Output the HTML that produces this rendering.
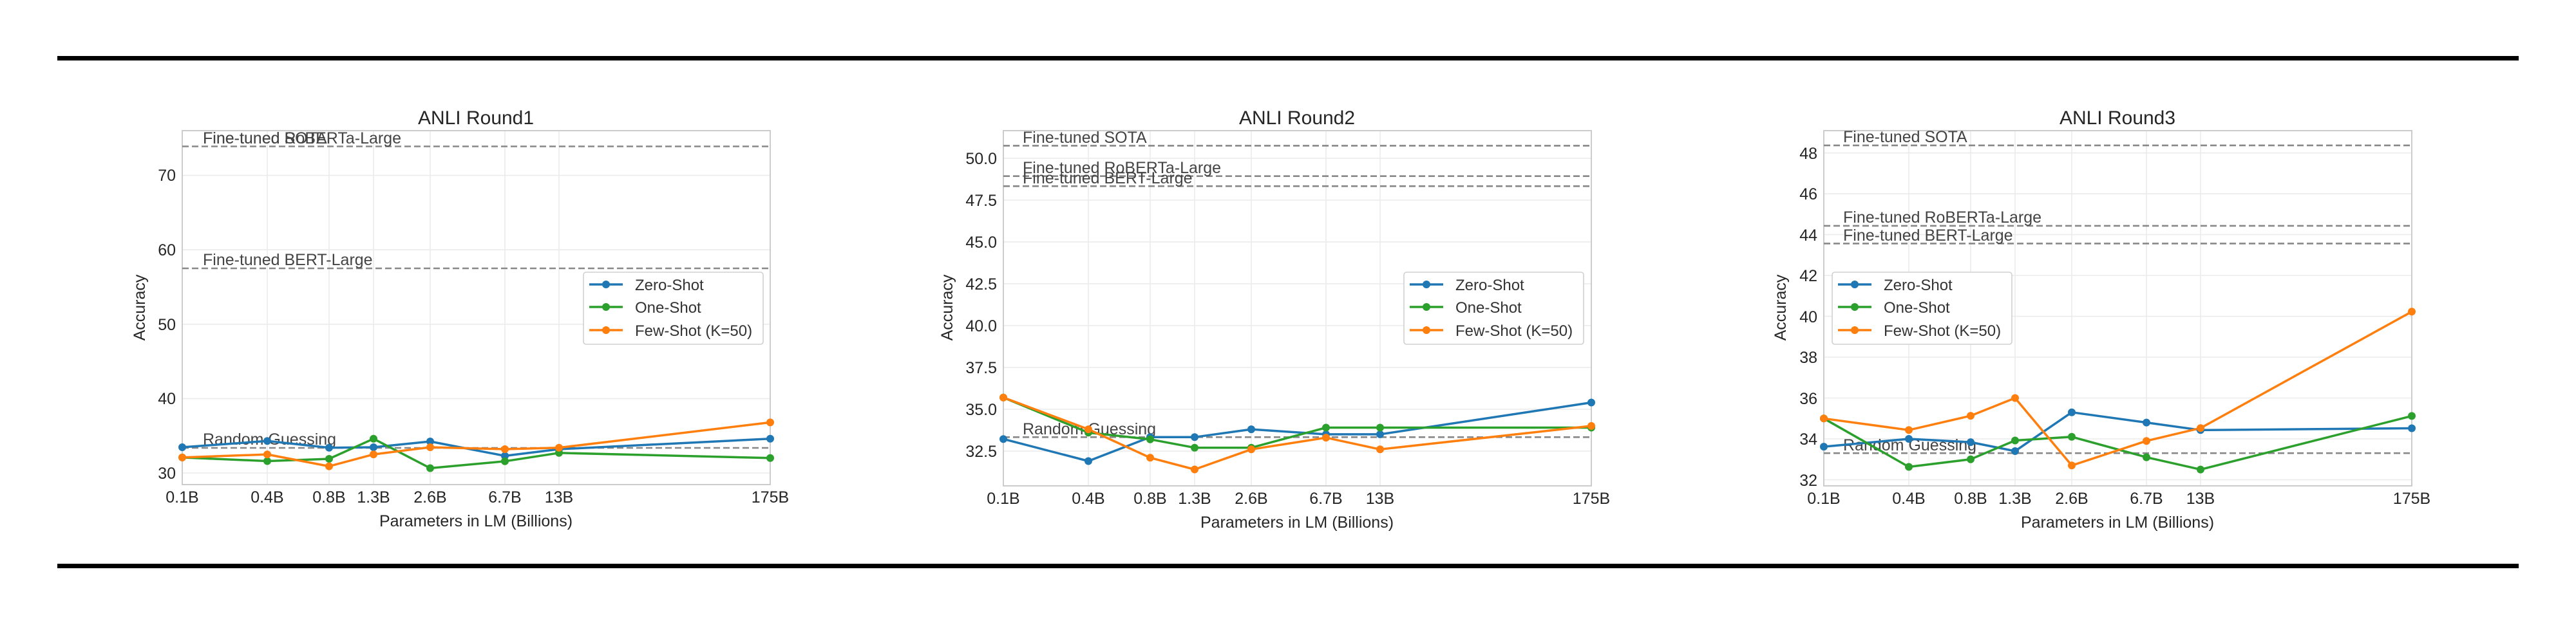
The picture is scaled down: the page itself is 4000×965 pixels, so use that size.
<!DOCTYPE html>
<html><head><meta charset="utf-8"><style>
html,body{margin:0;padding:0;background:#fff;}
svg{display:block;font-family:"Liberation Sans",Arial,sans-serif;}
.g{stroke:#ebebeb;stroke-width:1.6;}
.f{fill:none;stroke:#cccccc;stroke-width:2;}
.r{stroke:#888;stroke-width:2.6;stroke-dasharray:10,5;}
.rl{font-size:25px;fill:#444;}
.tk{font-size:25px;fill:#262626;}
.tt{font-size:30px;fill:#262626;text-anchor:middle;}
.xl{font-size:25px;fill:#262626;text-anchor:middle;}
.b{stroke:#1f77b4;} .gr{stroke:#2ca02c;} .o{stroke:#ff7f0e;}
polyline{fill:none;stroke-width:3.5;stroke-linejoin:round;}
.mb circle{fill:#1f77b4;} .mg circle{fill:#2ca02c;} .mo circle{fill:#ff7f0e;}
.lg{fill:#fff;stroke:#d0d0d0;stroke-width:1.6;}
.lt{font-size:24px;fill:#333;}
</style></head><body>
<svg width="4000" height="965" viewBox="0 0 4000 965" xmlns="http://www.w3.org/2000/svg">
<rect x="89" y="87" width="3822" height="7" fill="#000"/>
<rect x="89" y="876" width="3822" height="7" fill="#000"/>

<!-- Chart 1 -->
<g transform="translate(283,0)">
<g class="g">
<line x1="0" y1="735" x2="913" y2="735"/><line x1="0" y1="619.4" x2="913" y2="619.4"/><line x1="0" y1="503.8" x2="913" y2="503.8"/><line x1="0" y1="388.2" x2="913" y2="388.2"/><line x1="0" y1="272.6" x2="913" y2="272.6"/>
<line x1="132" y1="203" x2="132" y2="753"/><line x1="228" y1="203" x2="228" y2="753"/><line x1="297" y1="203" x2="297" y2="753"/><line x1="385" y1="203" x2="385" y2="753"/><line x1="501" y1="203" x2="501" y2="753"/><line x1="585" y1="203" x2="585" y2="753"/>
</g>
<rect class="f" x="0" y="203" width="913" height="550"/>
<line class="r" x1="0" y1="227.5" x2="913" y2="227.5"/>
<line class="r" x1="0" y1="417" x2="913" y2="417"/>
<line class="r" x1="0" y1="696" x2="913" y2="696"/>
<text class="rl" x="32" y="223">Fine-tuned SOTA</text>
<text class="rl" x="32" y="223">Fine-tuned RoBERTa-Large</text>
<text class="rl" x="32" y="412">Fine-tuned BERT-Large</text>
<text class="rl" x="32" y="691">Random Guessing</text>
<polyline class="b" points="0,695 132,685.3 228,695.7 297,695 385,686 501,708.4 585,698 913,681.8"/>
<polyline class="gr" points="0,710.9 132,716.5 228,713 297,681.8 385,727.5 501,716.8 585,703.8 913,711.8"/>
<polyline class="o" points="0,710.9 132,706.1 228,724.6 297,706.1 385,695 501,698 585,695.7 913,656.4"/>
<g class="mb"><circle cx="0" cy="695" r="6"/><circle cx="132" cy="685.3" r="6"/><circle cx="228" cy="695.7" r="6"/><circle cx="297" cy="695" r="6"/><circle cx="385" cy="686" r="6"/><circle cx="501" cy="708.4" r="6"/><circle cx="585" cy="698" r="6"/><circle cx="913" cy="681.8" r="6"/></g>
<g class="mg"><circle cx="0" cy="710.9" r="6"/><circle cx="132" cy="716.5" r="6"/><circle cx="228" cy="713" r="6"/><circle cx="297" cy="681.8" r="6"/><circle cx="385" cy="727.5" r="6"/><circle cx="501" cy="716.8" r="6"/><circle cx="585" cy="703.8" r="6"/><circle cx="913" cy="711.8" r="6"/></g>
<g class="mo"><circle cx="0" cy="710.9" r="6"/><circle cx="132" cy="706.1" r="6"/><circle cx="228" cy="724.6" r="6"/><circle cx="297" cy="706.1" r="6"/><circle cx="385" cy="695" r="6"/><circle cx="501" cy="698" r="6"/><circle cx="585" cy="695.7" r="6"/><circle cx="913" cy="656.4" r="6"/></g>
<g class="tk" text-anchor="end"><text x="-10" y="744">30</text><text x="-10" y="628">40</text><text x="-10" y="513">50</text><text x="-10" y="397">60</text><text x="-10" y="281">70</text></g>
<g class="tk" text-anchor="middle"><text x="0" y="781">0.1B</text><text x="132" y="781">0.4B</text><text x="228" y="781">0.8B</text><text x="297" y="781">1.3B</text><text x="385" y="781">2.6B</text><text x="501" y="781">6.7B</text><text x="585" y="781">13B</text><text x="913" y="781">175B</text></g>
<text class="tt" x="456" y="193">ANLI Round1</text>
<text class="xl" x="456" y="818">Parameters in LM (Billions)</text>
<text class="xl" transform="translate(-58,478) rotate(-90)">Accuracy</text>
<g transform="translate(623,423)">
<rect class="lg" x="0" y="0" width="279" height="112" rx="4"/>
<line class="b" x1="9" y1="19" x2="61" y2="19" stroke-width="3.5"/><circle cx="35" cy="19" r="6" fill="#1f77b4"/>
<line class="gr" x1="9" y1="54" x2="61" y2="54" stroke-width="3.5"/><circle cx="35" cy="54" r="6" fill="#2ca02c"/>
<line class="o" x1="9" y1="90" x2="61" y2="90" stroke-width="3.5"/><circle cx="35" cy="90" r="6" fill="#ff7f0e"/>
<text class="lt" x="80" y="28">Zero-Shot</text><text class="lt" x="80" y="63">One-Shot</text><text class="lt" x="80" y="99">Few-Shot (K=50)</text>
</g>
</g>

<!-- Chart 2 -->
<g transform="translate(1558,0)">
<g class="g">
<line x1="0" y1="700.9" x2="913" y2="700.9"/><line x1="0" y1="635.9" x2="913" y2="635.9"/><line x1="0" y1="570.9" x2="913" y2="570.9"/><line x1="0" y1="505.9" x2="913" y2="505.9"/><line x1="0" y1="440.9" x2="913" y2="440.9"/><line x1="0" y1="375.9" x2="913" y2="375.9"/><line x1="0" y1="310.9" x2="913" y2="310.9"/><line x1="0" y1="245.9" x2="913" y2="245.9"/>
<line x1="132" y1="203" x2="132" y2="755"/><line x1="228" y1="203" x2="228" y2="755"/><line x1="297" y1="203" x2="297" y2="755"/><line x1="385" y1="203" x2="385" y2="755"/><line x1="501" y1="203" x2="501" y2="755"/><line x1="585" y1="203" x2="585" y2="755"/>
</g>
<rect class="f" x="0" y="203" width="913" height="552"/>
<line class="r" x1="0" y1="226.4" x2="913" y2="226.4"/>
<line class="r" x1="0" y1="273.7" x2="913" y2="273.7"/>
<line class="r" x1="0" y1="289.3" x2="913" y2="289.3"/>
<line class="r" x1="0" y1="679.3" x2="913" y2="679.3"/>
<text class="rl" x="30" y="222">Fine-tuned SOTA</text>
<text class="rl" x="30" y="269">Fine-tuned RoBERTa-Large</text>
<text class="rl" x="30" y="285">Fine-tuned BERT-Large</text>
<text class="rl" x="30" y="675">Random Guessing</text>
<polyline class="b" points="0,682.2 132,716.5 228,679.3 297,679.3 385,667.1 501,674.9 585,674.9 913,625.5"/>
<polyline class="gr" points="0,617.7 132,672.3 228,682.7 297,695.7 385,695.7 501,664.5 585,664.5 913,664.5"/>
<polyline class="o" points="0,617.7 132,667.1 228,711.3 297,729.5 385,698.3 501,680.1 585,698.3 913,661.9"/>
<g class="mb"><circle cx="0" cy="682.2" r="6"/><circle cx="132" cy="716.5" r="6"/><circle cx="228" cy="679.3" r="6"/><circle cx="297" cy="679.3" r="6"/><circle cx="385" cy="667.1" r="6"/><circle cx="501" cy="674.9" r="6"/><circle cx="585" cy="674.9" r="6"/><circle cx="913" cy="625.5" r="6"/></g>
<g class="mg"><circle cx="0" cy="617.7" r="6"/><circle cx="132" cy="672.3" r="6"/><circle cx="228" cy="682.7" r="6"/><circle cx="297" cy="695.7" r="6"/><circle cx="385" cy="695.7" r="6"/><circle cx="501" cy="664.5" r="6"/><circle cx="585" cy="664.5" r="6"/><circle cx="913" cy="664.5" r="6"/></g>
<g class="mo"><circle cx="0" cy="617.7" r="6"/><circle cx="132" cy="667.1" r="6"/><circle cx="228" cy="711.3" r="6"/><circle cx="297" cy="729.5" r="6"/><circle cx="385" cy="698.3" r="6"/><circle cx="501" cy="680.1" r="6"/><circle cx="585" cy="698.3" r="6"/><circle cx="913" cy="661.9" r="6"/></g>
<g class="tk" text-anchor="end"><text x="-10" y="710">32.5</text><text x="-10" y="645">35.0</text><text x="-10" y="580">37.5</text><text x="-10" y="515">40.0</text><text x="-10" y="450">42.5</text><text x="-10" y="385">45.0</text><text x="-10" y="320">47.5</text><text x="-10" y="255">50.0</text></g>
<g class="tk" text-anchor="middle"><text x="0" y="783">0.1B</text><text x="132" y="783">0.4B</text><text x="228" y="783">0.8B</text><text x="297" y="783">1.3B</text><text x="385" y="783">2.6B</text><text x="501" y="783">6.7B</text><text x="585" y="783">13B</text><text x="913" y="783">175B</text></g>
<text class="tt" x="456" y="193">ANLI Round2</text>
<text class="xl" x="456" y="820">Parameters in LM (Billions)</text>
<text class="xl" transform="translate(-79,478) rotate(-90)">Accuracy</text>
<g transform="translate(622,423)">
<rect class="lg" x="0" y="0" width="279" height="112" rx="4"/>
<line class="b" x1="9" y1="19" x2="61" y2="19" stroke-width="3.5"/><circle cx="35" cy="19" r="6" fill="#1f77b4"/>
<line class="gr" x1="9" y1="54" x2="61" y2="54" stroke-width="3.5"/><circle cx="35" cy="54" r="6" fill="#2ca02c"/>
<line class="o" x1="9" y1="90" x2="61" y2="90" stroke-width="3.5"/><circle cx="35" cy="90" r="6" fill="#ff7f0e"/>
<text class="lt" x="80" y="28">Zero-Shot</text><text class="lt" x="80" y="63">One-Shot</text><text class="lt" x="80" y="99">Few-Shot (K=50)</text>
</g>
</g>

<!-- Chart 3 -->
<g transform="translate(2832,0)">
<g class="g">
<line x1="0" y1="745.5" x2="913" y2="745.5"/><line x1="0" y1="682" x2="913" y2="682"/><line x1="0" y1="618.5" x2="913" y2="618.5"/><line x1="0" y1="555" x2="913" y2="555"/><line x1="0" y1="491.6" x2="913" y2="491.6"/><line x1="0" y1="428.1" x2="913" y2="428.1"/><line x1="0" y1="364.6" x2="913" y2="364.6"/><line x1="0" y1="301.2" x2="913" y2="301.2"/><line x1="0" y1="237.7" x2="913" y2="237.7"/>
<line x1="132" y1="203" x2="132" y2="755"/><line x1="228" y1="203" x2="228" y2="755"/><line x1="297" y1="203" x2="297" y2="755"/><line x1="385" y1="203" x2="385" y2="755"/><line x1="501" y1="203" x2="501" y2="755"/><line x1="585" y1="203" x2="585" y2="755"/>
</g>
<rect class="f" x="0" y="203" width="913" height="552"/>
<line class="r" x1="0" y1="225.9" x2="913" y2="225.9"/>
<line class="r" x1="0" y1="350.9" x2="913" y2="350.9"/>
<line class="r" x1="0" y1="378.4" x2="913" y2="378.4"/>
<line class="r" x1="0" y1="704.2" x2="913" y2="704.2"/>
<text class="rl" x="30" y="221">Fine-tuned SOTA</text>
<text class="rl" x="30" y="346">Fine-tuned RoBERTa-Large</text>
<text class="rl" x="30" y="374">Fine-tuned BERT-Large</text>
<text class="rl" x="30" y="700">Random Guessing</text>
<polyline class="b" points="0,694.1 132,682 228,687.1 297,701 385,640.7 501,656.6 585,668.3 913,665.5"/>
<polyline class="gr" points="0,650.3 132,725.5 228,713.7 297,684.5 385,678.8 501,710.6 585,729.6 913,646.4"/>
<polyline class="o" points="0,650.3 132,668.3 228,646.1 297,618.5 385,723.3 501,685.2 585,665.2 913,484.3"/>
<g class="mb"><circle cx="0" cy="694.1" r="6"/><circle cx="132" cy="682" r="6"/><circle cx="228" cy="687.1" r="6"/><circle cx="297" cy="701" r="6"/><circle cx="385" cy="640.7" r="6"/><circle cx="501" cy="656.6" r="6"/><circle cx="585" cy="668.3" r="6"/><circle cx="913" cy="665.5" r="6"/></g>
<g class="mg"><circle cx="0" cy="650.3" r="6"/><circle cx="132" cy="725.5" r="6"/><circle cx="228" cy="713.7" r="6"/><circle cx="297" cy="684.5" r="6"/><circle cx="385" cy="678.8" r="6"/><circle cx="501" cy="710.6" r="6"/><circle cx="585" cy="729.6" r="6"/><circle cx="913" cy="646.4" r="6"/></g>
<g class="mo"><circle cx="0" cy="650.3" r="6"/><circle cx="132" cy="668.3" r="6"/><circle cx="228" cy="646.1" r="6"/><circle cx="297" cy="618.5" r="6"/><circle cx="385" cy="723.3" r="6"/><circle cx="501" cy="685.2" r="6"/><circle cx="585" cy="665.2" r="6"/><circle cx="913" cy="484.3" r="6"/></g>
<g class="tk" text-anchor="end"><text x="-10" y="755">32</text><text x="-10" y="691">34</text><text x="-10" y="628">36</text><text x="-10" y="564">38</text><text x="-10" y="501">40</text><text x="-10" y="437">42</text><text x="-10" y="374">44</text><text x="-10" y="310">46</text><text x="-10" y="247">48</text></g>
<g class="tk" text-anchor="middle"><text x="0" y="783">0.1B</text><text x="132" y="783">0.4B</text><text x="228" y="783">0.8B</text><text x="297" y="783">1.3B</text><text x="385" y="783">2.6B</text><text x="501" y="783">6.7B</text><text x="585" y="783">13B</text><text x="913" y="783">175B</text></g>
<text class="tt" x="456" y="193">ANLI Round3</text>
<text class="xl" x="456" y="820">Parameters in LM (Billions)</text>
<text class="xl" transform="translate(-59,478) rotate(-90)">Accuracy</text>
<g transform="translate(13,423)">
<rect class="lg" x="0" y="0" width="279" height="112" rx="4"/>
<line class="b" x1="9" y1="19" x2="61" y2="19" stroke-width="3.5"/><circle cx="35" cy="19" r="6" fill="#1f77b4"/>
<line class="gr" x1="9" y1="54" x2="61" y2="54" stroke-width="3.5"/><circle cx="35" cy="54" r="6" fill="#2ca02c"/>
<line class="o" x1="9" y1="90" x2="61" y2="90" stroke-width="3.5"/><circle cx="35" cy="90" r="6" fill="#ff7f0e"/>
<text class="lt" x="80" y="28">Zero-Shot</text><text class="lt" x="80" y="63">One-Shot</text><text class="lt" x="80" y="99">Few-Shot (K=50)</text>
</g>
</g>
</svg>
</body></html>
